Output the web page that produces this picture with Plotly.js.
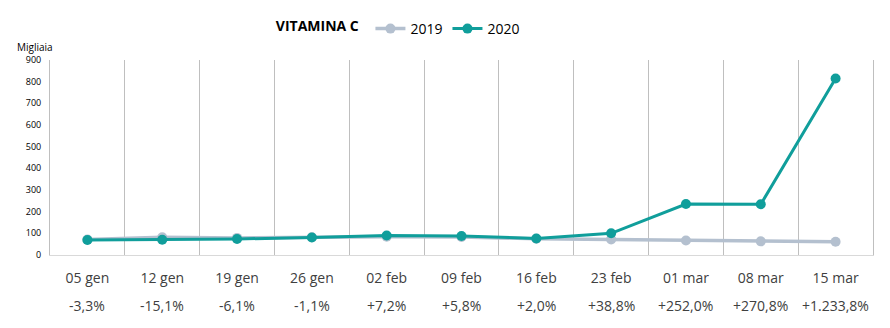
<!DOCTYPE html>
<html>
<head>
<meta charset="utf-8">
<script src="https://cdn.plot.ly/plotly-3.0.1.min.js"></script>
<style>html,body{margin:0;padding:0;background:#fff;}#chart{width:890px;height:328px;}</style>
</head>
<body>
<div id="chart"></div>
<script>
const categories = ["05 gen","12 gen","19 gen","26 gen","02 feb","09 feb","16 feb","23 feb","01 mar","08 mar","15 mar"];
const values2019 = [71, 82, 79, 82, 84, 83, 75, 72, 67, 63, 61];
const values2020 = [69, 70, 74, 81, 90, 88, 76, 100, 235, 234, 815];
const changes = ["-3,3%","-15,1%","-6,1%","-1,1%","+7,2%","+5,8%","+2,0%","+38,8%","+252,0%","+270,8%","+1.233,8%"];
const yTicks = [0,100,200,300,400,500,600,700,800,900];

const FONT = "'Open Sans', 'Noto Sans', sans-serif";
const traces = [
  {x: categories, y: values2019, name: "2019", type: "scatter", mode: "lines+markers",
   line: {color: "#B4C0CF", width: 3.5}, marker: {color: "#B4C0CF", size: 10}},
  {x: categories, y: values2020, name: "2020", type: "scatter", mode: "lines+markers",
   line: {color: "#109E9B", width: 3}, marker: {color: "#109E9B", size: 10}}
];

const annotations = categories.map((c, i) => ({
  x: c, xref: "x", y: -0.24, yref: "paper", yshift: -4, text: changes[i], showarrow: false,
  font: {family: FONT, size: 14, color: "#404040"}, yanchor: "middle"
}));
annotations.push({x: 0, xref: "paper", xanchor: "right", xshift: 5, y: 1.067, yref: "paper", yanchor: "middle",
  text: "Migliaia", showarrow: false, font: {family: FONT, size: 10, color: "#000"}});

const layout = {
  width: 890, height: 328,
  margin: {l: 50, r: 17, t: 60, b: 73},
  paper_bgcolor: "#fff", plot_bgcolor: "#fff",
  font: {family: FONT, color: "#404040"},
  showlegend: true,
  legend: {orientation: "h", x: 0.272, xanchor: "left", y: 1.159, yanchor: "middle",
    title: {text: "<b>VITAMINA C</b> ", side: "left", font: {family: FONT, size: 14, color: "#000"}},
    font: {family: FONT, size: 14, color: "#000"}, itemwidth: 30, tracegroupgap: 0},
  xaxis: {type: "category", range: [-0.5, 10.5], tickson: "boundaries", showgrid: true,
    gridcolor: "#BFBFBF", gridwidth: 1, ticks: "", showline: true, linecolor: "#D9D9D9",
    tickfont: {family: FONT, size: 14, color: "#404040"}, ticklabelstandoff: 10, fixedrange: true},
  yaxis: {range: [0, 900], tickvals: yTicks, showgrid: false, zeroline: false, showline: true,
    linecolor: "#BFBFBF", mirror: true, ticks: "", tickfont: {family: FONT, size: 9, color: "#000"}, ticklabelstandoff: 6},
  annotations: annotations
};
Plotly.newPlot("chart", traces, layout, {displayModeBar: false, staticPlot: true});
</script>
</body>
</html>
